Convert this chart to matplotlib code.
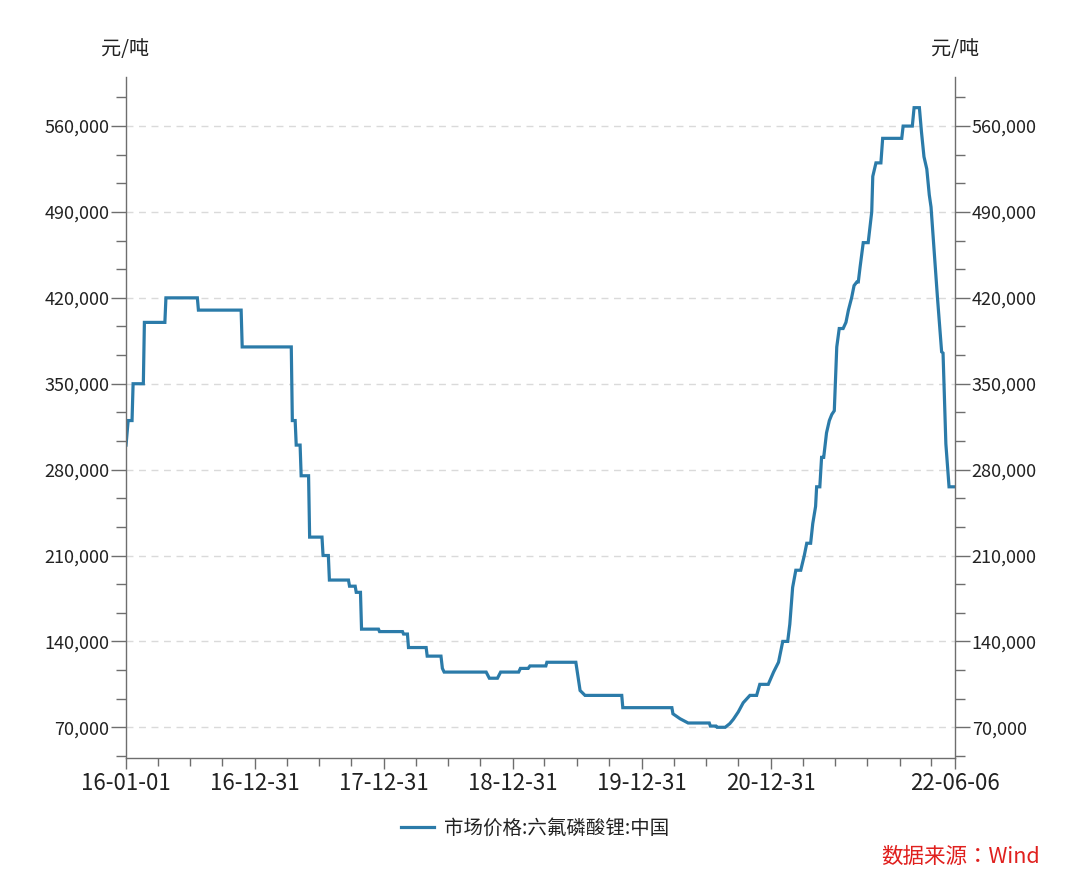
import matplotlib
matplotlib.use("Agg")
import matplotlib.pyplot as plt
import matplotlib.dates as mdates
from matplotlib.ticker import MultipleLocator, FuncFormatter
import pandas as pd

plt.rcParams['font.family'] = ['Noto Sans CJK SC', 'DejaVu Sans']

# 市场价格:六氟磷酸锂:中国 (元/吨)
dates = [
    "2016-01-01", "2016-01-07", "2016-01-18", "2016-01-21", "2016-02-19", "2016-02-22",
    "2016-04-20", "2016-04-23", "2016-07-21", "2016-07-24", "2016-11-22", "2016-11-25",
    "2017-04-13", "2017-04-16", "2017-04-24", "2017-04-27", "2017-05-08", "2017-05-11",
    "2017-06-01", "2017-06-04", "2017-07-09", "2017-07-12", "2017-07-27", "2017-07-30",
    "2017-09-22", "2017-09-25", "2017-10-11", "2017-10-14", "2017-10-26", "2017-10-29",
    "2017-12-16", "2017-12-19", "2018-02-22", "2018-02-25", "2018-03-08", "2018-03-11",
    "2018-04-30", "2018-05-03", "2018-06-11", "2018-06-15", "2018-06-20", "2018-10-17",
    "2018-10-26", "2018-11-18", "2018-11-27", "2019-01-17", "2019-01-22", "2019-02-13",
    "2019-02-18", "2019-04-04", "2019-04-07", "2019-06-28", "2019-07-10", "2019-07-24",
    "2019-11-05", "2019-11-08", "2020-03-26", "2020-03-29", "2020-04-18", "2020-05-11",
    "2020-07-10", "2020-07-13", "2020-07-29", "2020-08-01", "2020-08-24", "2020-09-06",
    "2020-09-16", "2020-09-30", "2020-10-14", "2020-11-02", "2020-11-21", "2020-11-25",
    "2020-11-30", "2020-12-24", "2021-01-08", "2021-01-22", "2021-02-03", "2021-02-17",
    "2021-02-23", "2021-03-03", "2021-03-12", "2021-03-26", "2021-04-05", "2021-04-12",
    "2021-04-23", "2021-04-29", "2021-05-07", "2021-05-10", "2021-05-19", "2021-05-24",
    "2021-05-30", "2021-06-07", "2021-06-15", "2021-06-22", "2021-06-29", "2021-07-06",
    "2021-07-13", "2021-07-24", "2021-08-01", "2021-08-08", "2021-08-17", "2021-08-24",
    "2021-09-01", "2021-09-05", "2021-09-10", "2021-09-19", "2021-10-03", "2021-10-13",
    "2021-10-16", "2021-10-25", "2021-11-08", "2021-11-13", "2022-01-06", "2022-01-10",
    "2022-02-05", "2022-02-10", "2022-02-25", "2022-03-03", "2022-03-10", "2022-03-18",
    "2022-03-25", "2022-03-30", "2022-04-17", "2022-04-29", "2022-05-03", "2022-05-11",
    "2022-05-20", "2022-06-06",
]
prices = [
    300000, 320000, 320000, 350000, 350000, 400000,
    400000, 420000, 420000, 410000, 410000, 380000,
    380000, 320000, 320000, 300000, 300000, 275000,
    275000, 225000, 225000, 210000, 210000, 190000,
    190000, 185000, 185000, 180000, 180000, 150000,
    150000, 148000, 148000, 146000, 146000, 135000,
    135000, 128000, 128000, 118000, 115000, 115000,
    110000, 110000, 115000, 115000, 118000, 118000,
    120000, 120000, 123000, 123000, 100000, 96000,
    96000, 86000, 86000, 81000, 77000, 73500,
    73500, 71000, 71000, 70000, 70000, 73000,
    76500, 82500, 90000, 96000, 96000, 100000,
    105000, 105000, 115000, 123000, 140000, 140000,
    154000, 184000, 198000, 198000, 210000, 220000,
    220000, 236000, 250000, 266000, 266000, 290000,
    290000, 310000, 320000, 325000, 328000, 380000,
    395000, 395000, 400000, 410000, 420000, 430000,
    433000, 433000, 445000, 465000, 465000, 490000,
    519000, 530000, 530000, 550000, 550000, 560000,
    560000, 575000, 575000, 555000, 535000, 525000,
    504000, 494000, 421000, 376000, 375000, 301000,
    266000, 266000,
]

x_labels = ["2016-01-01", "2016-12-31", "2017-12-31", "2018-12-31",
            "2019-12-31", "2020-12-31", "2022-06-06"]
x_minor = ["2016-03-31", "2016-06-30", "2016-09-30",
           "2017-03-31", "2017-06-30", "2017-09-30",
           "2018-03-31", "2018-06-30", "2018-09-30",
           "2019-03-31", "2019-06-30", "2019-09-30",
           "2020-03-31", "2020-06-30", "2020-09-30",
           "2021-03-31", "2021-06-30", "2021-09-30", "2021-12-31",
           "2022-03-31"]

line_color = "#2B7BA9"
axis_color = "#6E6E6E"
text_color = "#222222"

fig = plt.figure(figsize=(10.8, 8.83), dpi=100)
ax = fig.add_axes([0.1167, 0.1416, 0.7676, 0.7712])

ax.plot(pd.to_datetime(dates), prices, color=line_color, lw=2.3,
        solid_joinstyle="miter", label="市场价格:六氟磷酸锂:中国")

ax.set_xlim(pd.Timestamp("2016-01-01"), pd.Timestamp("2022-06-06"))
ax.set_ylim(45000, 600000)

# y axis on both sides
ax.yaxis.set_major_locator(MultipleLocator(70000))
ax.yaxis.set_minor_locator(MultipleLocator(70000 / 3))
ax.yaxis.set_major_formatter(FuncFormatter(lambda v, p: f"{v:,.0f}"))
ax.tick_params(axis="y", which="both", left=True, right=True,
               labelleft=True, labelright=True, colors=axis_color,
               labelcolor=text_color, labelsize=13)
ax.tick_params(axis="y", which="major", length=11, width=1, pad=1)
ax.tick_params(axis="y", which="minor", length=7, width=1)

ax.set_xticks(pd.to_datetime(x_labels))
ax.set_xticks(pd.to_datetime(x_minor), minor=True)
ax.xaxis.set_major_formatter(mdates.DateFormatter("%y-%m-%d"))
ax.tick_params(axis="x", which="both", colors=axis_color,
               labelcolor=text_color, labelsize=16)
ax.tick_params(axis="x", which="major", length=8, width=1, pad=2)
ax.tick_params(axis="x", which="minor", length=6, width=1)

for side in ["left", "right", "bottom"]:
    ax.spines[side].set_color(axis_color)
    ax.spines[side].set_linewidth(1)
ax.spines["top"].set_visible(False)

ax.grid(axis="y", which="major", color="#DADADA", linestyle=(0, (5, 4)), lw=1)
ax.set_axisbelow(True)

fig.text(0.1157, 0.9434, "元/吨", ha="center", va="center", fontsize=14.5, color=text_color)
fig.text(0.884, 0.9434, "元/吨", ha="center", va="center", fontsize=14.5, color=text_color)

fig.legend(loc="center", bbox_to_anchor=(0.4955, 0.0623), frameon=False,
           fontsize=14, handlelength=1.7, handletextpad=0.5, labelcolor=text_color)

fig.text(0.963, 0.0294, "数据来源：Wind", ha="right", va="center",
         fontsize=15.5, color="#E0201E", family=["Noto Sans CJK JP", "DejaVu Sans"])

fig.savefig("out.png", dpi=100)
